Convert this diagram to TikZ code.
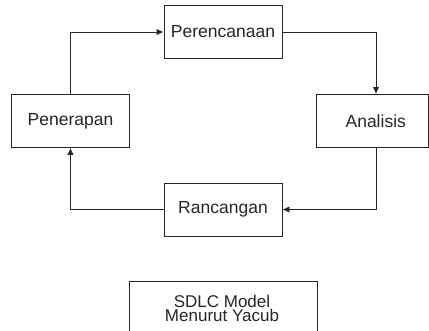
\documentclass[tikz,border=0pt]{standalone}
\usepackage{fontspec}
\setmainfont{Liberation Sans}
\newfontfamily\serifpart{Liberation Serif}
\usetikzlibrary{arrows.meta}
\begin{document}
\begin{tikzpicture}[x=1pt,y=-1pt,
  stage/.style={draw=black!85, line width=0.9pt, minimum width=118pt, minimum height=53pt,
    inner sep=0pt, text=black!85, font=\fontsize{17.5}{17.5}\selectfont},
  flow/.style={draw=black!85, line width=0.9pt, -{Latex[length=7pt,width=6.5pt]}}]
\useasboundingbox (0,0) rectangle (429,330);
\clip (0,0) rectangle (429,330);
\node[anchor=base west, inner sep=0pt, font=\serifpart\fontsize{17}{17}\selectfont] (top) at (10,-3.9) {pada bagian dan sub bagian};
\node[stage] (per) at (223,32) {Perencanaan};
\node[stage] (pen) at (70.5,121) {Penerapan};
\node[stage, minimum width=112.5pt] (ana) at (372.25,121) {\hspace*{7pt}Analisis};
\node[stage] (ran) at (223,209.5) {Rancangan};
\node[draw=black!85, line width=0.9pt, minimum width=188pt, minimum height=60pt, inner sep=0pt] (sdlc) at (223,311) {};
\node[inner sep=0pt, text=black!85, align=center, font=\fontsize{17}{14.5}\selectfont] (sdlctext) at (222,308.5) {SDLC Model\\Menurut Yacub};
\coordinate (anaIn) at (376,94);
\draw[flow] (pen.north) |- (per.west);
\draw[flow] (per.east) -| (anaIn);
\draw[flow] (anaIn |- ana.south) |- (ran.east);
\draw[flow] (ran.west) -| (pen.south);
\end{tikzpicture}
\end{document}
